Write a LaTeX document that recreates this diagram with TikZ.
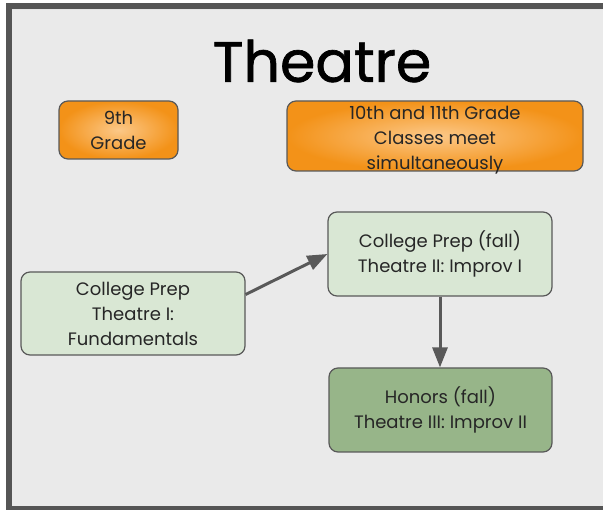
\documentclass[tikz,border=0pt]{standalone}
\usepackage{fontspec}
\setmainfont{Poppins}
\newfontfamily\titlefont[FakeBold=1.2]{Poppins}
\usetikzlibrary{arrows.meta}
\definecolor{framegray}{HTML}{555555}
\definecolor{panel}{HTML}{EAEAEA}
\definecolor{edgegray}{HTML}{595959}
\definecolor{orangelight}{HTML}{FCC888}
\definecolor{orangedark}{HTML}{F39218}
\definecolor{palegreen}{HTML}{D9E7D4}
\definecolor{sagegreen}{HTML}{97B589}
\tikzset{
  cardtext/.style={align=center, inner sep=0pt, text=black!85,
    font=\fontsize{18}{25}\selectfont},
  card/.style={cardtext, draw=edgegray, line width=1.2pt, rounded corners=9pt},
  gradecard/.style={card, inner color=orangelight, outer color=orangedark},
  prepcard/.style={card, fill=palegreen},
  honorcard/.style={card, fill=sagegreen},
  flow/.style={draw=edgegray, line width=3pt, -{Triangle[length=20pt,width=15pt]}}
}
\begin{document}
\begin{tikzpicture}[x=1pt,y=-1pt]
  \fill[white] (0,0) rectangle (603,510);
  \useasboundingbox (0,0) rectangle (603,510);
  % slide frame and panel
  \fill[framegray] (6,3) rectangle (615,515);
  \fill[panel] (12,9) rectangle (603,506);
  \draw[white!80!gray, line width=0.6pt] (12.3,9.3) -- (603,9.3);
  % title
  \node[font=\titlefont\fontsize{57}{64}\selectfont, text=black] (title) at (322,61) {Theatre};
  % grade headers
  \node[gradecard, minimum width=119pt, minimum height=58pt] (g9) at (118.5,130) {9th\\Grade};
  \node[gradecard, minimum width=296pt, minimum height=70pt] (g1011) at (435,136) {};
  \node[cardtext] (g1011text) at ([yshift=-4pt]g1011.center)
    {10th and 11th Grade\\Classes meet\\simultaneously};
  % courses
  \node[prepcard, minimum width=224pt, minimum height=83pt] (cp1) at (133,313.5)
    {College Prep\\Theatre I:\\Fundamentals};
  \node[prepcard, minimum width=224pt, minimum height=84pt] (cp2) at (440,254)
    {\rule{0pt}{14pt}College Prep (fall)\\Theatre II: Improv I};
  \node[honorcard, minimum width=223pt, minimum height=84pt] (hon) at (440.5,410)
    {\rule{0pt}{14pt}Honors (fall)\\Theatre III: Improv II};
  % progression
  \draw[flow] ([yshift=19pt]cp1.east) -- (cp2.west);
  \draw[flow] (cp2.south) -- (cp2.south |- hon.north);
\end{tikzpicture}
\end{document}
